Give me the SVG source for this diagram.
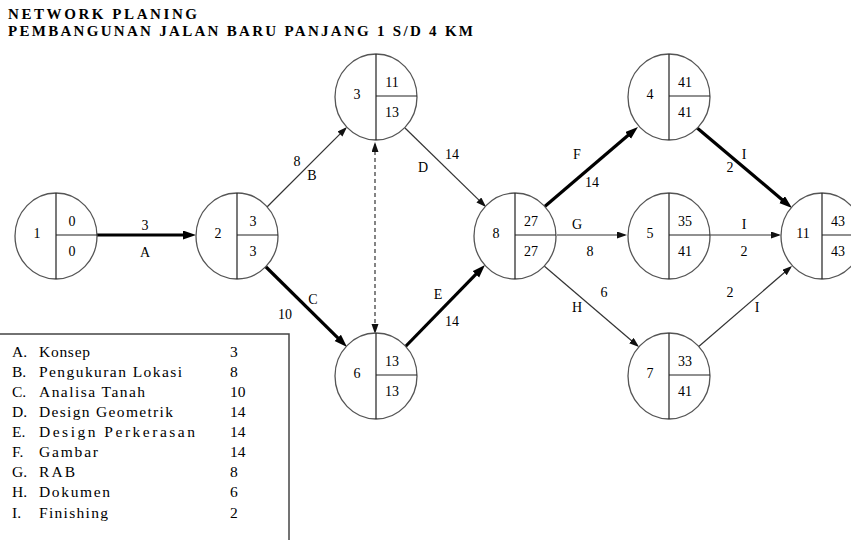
<svg xmlns="http://www.w3.org/2000/svg" width="851" height="540" viewBox="0 0 851 540" font-family="'Liberation Serif', 'Times New Roman', serif">
<defs>
<style>
text{font-family:"Liberation Serif","Times New Roman",serif;fill:#000}
.t{font-size:15px;font-weight:bold}
.n{font-size:14px;text-anchor:middle}
.lg{font-size:15.5px}
.c{fill:#fff;stroke:#555;stroke-width:1.3}
.dv{stroke:#222;stroke-width:1.2;fill:none}
.thin{stroke:#333;stroke-width:1.2;fill:none;marker-end:url(#ah)}
.thick{stroke:#000;stroke-width:3.2;fill:none;marker-end:url(#ahb)}
.dash{stroke:#333;stroke-width:1.2;fill:none;stroke-dasharray:4 3;marker-start:url(#ahd);marker-end:url(#ahd)}
</style>
<marker id="ah" markerUnits="userSpaceOnUse" markerWidth="10" markerHeight="8" refX="8" refY="3.5" orient="auto"><path d="M0,0 L10,3.5 L0,7 z" fill="#111"/></marker>
<marker id="ahd" markerUnits="userSpaceOnUse" markerWidth="10" markerHeight="8" refX="8" refY="3.5" orient="auto-start-reverse"><path d="M0,0 L10,3.5 L0,7 z" fill="#111"/></marker>
<marker id="ahb" markerUnits="userSpaceOnUse" markerWidth="13" markerHeight="10" refX="4" refY="4.5" orient="auto"><path d="M0,0 L13,4.5 L0,9 z" fill="#000"/></marker>
</defs>
<rect width="851" height="540" fill="#fff"/>
<g id="title">
<text class="t" x="8" y="19" textLength="189" lengthAdjust="spacing">NETWORK PLANING</text>
<text class="t" x="8" y="36" textLength="465" lengthAdjust="spacing">PEMBANGUNAN JALAN BARU PANJANG 1 S/D 4 KM</text>
</g>
<g id="connectors">
<line class="thick" x1="97" y1="235" x2="187" y2="235"/>
<line class="thin" x1="266" y1="208" x2="345.6" y2="128.4"/>
<line class="thick" x1="264" y1="265" x2="340.6" y2="340.7"/>
<line class="thin" x1="405" y1="128" x2="484.6" y2="205.6"/>
<line class="dash" x1="375" y1="144" x2="375" y2="332"/>
<line class="thick" x1="405" y1="347" x2="478.7" y2="271.4"/>
<line class="thick" x1="543" y1="208" x2="631.1" y2="132.8"/>
<line class="thick" x1="696" y1="127" x2="785.1" y2="202.2"/>
<line class="thin" x1="557" y1="235" x2="625" y2="235"/>
<line class="thin" x1="709" y1="235" x2="779" y2="235"/>
<line class="thin" x1="543" y1="265" x2="637.5" y2="345.7"/>
<line class="thin" x1="697" y1="348" x2="790.5" y2="267.3"/>
<g>
<text class="n" x="145" y="230">3</text><text class="n" x="145" y="257">A</text>
<text class="n" x="297" y="166">8</text><text class="n" x="312" y="180">B</text>
<text class="n" x="313" y="304">C</text><text class="n" x="285" y="319">10</text>
<text class="n" x="452" y="159">14</text><text class="n" x="423" y="172">D</text>
<text class="n" x="438" y="299">E</text><text class="n" x="452" y="326">14</text>
<text class="n" x="577" y="159">F</text><text class="n" x="592" y="187">14</text>
<text class="n" x="744" y="159">I</text><text class="n" x="730" y="172">2</text>
<text class="n" x="577" y="229">G</text><text class="n" x="590" y="256">8</text>
<text class="n" x="744" y="229">I</text><text class="n" x="744" y="256">2</text>
<text class="n" x="604" y="297">6</text><text class="n" x="577" y="312">H</text>
<text class="n" x="730" y="297">2</text><text class="n" x="757" y="312">I</text>
</g>
</g>
<g id="node1"><ellipse class="c" cx="56" cy="236" rx="41" ry="43"/><path class="dv" d="M56,193V279M56,235H97"/><text class="n" x="37" y="238">1</text><text class="n" x="72" y="226">0</text><text class="n" x="72" y="256">0</text></g>
<g id="node2"><ellipse class="c" cx="237" cy="236" rx="41" ry="43"/><path class="dv" d="M237,193V279M237,235H278"/><text class="n" x="218" y="238">2</text><text class="n" x="253" y="226">3</text><text class="n" x="253" y="256">3</text></g>
<g id="node3"><ellipse class="c" cx="376" cy="97" rx="41" ry="43"/><path class="dv" d="M376,54V140M376,96H417"/><text class="n" x="357" y="99">3</text><text class="n" x="392" y="87">11</text><text class="n" x="392" y="117">13</text></g>
<g id="node6"><ellipse class="c" cx="376" cy="376" rx="41" ry="43"/><path class="dv" d="M376,333V419M376,375H417"/><text class="n" x="357" y="378">6</text><text class="n" x="392" y="366">13</text><text class="n" x="392" y="396">13</text></g>
<g id="node8"><ellipse class="c" cx="515" cy="236" rx="41" ry="43"/><path class="dv" d="M515,193V279M515,235H556"/><text class="n" x="496" y="238">8</text><text class="n" x="531" y="226">27</text><text class="n" x="531" y="256">27</text></g>
<g id="node4"><ellipse class="c" cx="669" cy="97" rx="41" ry="43"/><path class="dv" d="M669,54V140M669,96H710"/><text class="n" x="650" y="99">4</text><text class="n" x="685" y="87">41</text><text class="n" x="685" y="117">41</text></g>
<g id="node5"><ellipse class="c" cx="669" cy="236" rx="41" ry="43"/><path class="dv" d="M669,193V279M669,235H710"/><text class="n" x="650" y="238">5</text><text class="n" x="685" y="226">35</text><text class="n" x="685" y="256">41</text></g>
<g id="node7"><ellipse class="c" cx="669" cy="376" rx="41" ry="43"/><path class="dv" d="M669,333V419M669,375H710"/><text class="n" x="650" y="378">7</text><text class="n" x="685" y="366">33</text><text class="n" x="685" y="396">41</text></g>
<g id="node11"><ellipse class="c" cx="822" cy="236" rx="41" ry="43"/><path class="dv" d="M822,193V279M822,235H863"/><text class="n" x="803" y="238">11</text><text class="n" x="838" y="226">43</text><text class="n" x="838" y="256">43</text></g>
<g id="legend">
<rect x="-2" y="334" width="291" height="212" fill="none" stroke="#444" stroke-width="1.5"/>
<text class="lg" x="12" y="357">A.</text><text class="lg" x="39" y="357" textLength="51" lengthAdjust="spacing">Konsep</text><text class="lg" x="230" y="357">3</text>
<text class="lg" x="12" y="377">B.</text><text class="lg" x="39" y="377" textLength="143" lengthAdjust="spacing">Pengukuran Lokasi</text><text class="lg" x="230" y="377">8</text>
<text class="lg" x="12" y="397">C.</text><text class="lg" x="39" y="397" textLength="106" lengthAdjust="spacing">Analisa Tanah</text><text class="lg" x="230" y="397">10</text>
<text class="lg" x="12" y="417">D.</text><text class="lg" x="39" y="417" textLength="134" lengthAdjust="spacing">Design Geometrik</text><text class="lg" x="230" y="417">14</text>
<text class="lg" x="12" y="437">E.</text><text class="lg" x="39" y="437" textLength="156" lengthAdjust="spacing">Design Perkerasan</text><text class="lg" x="230" y="437">14</text>
<text class="lg" x="12" y="457">F.</text><text class="lg" x="39" y="457" textLength="59" lengthAdjust="spacing">Gambar</text><text class="lg" x="230" y="457">14</text>
<text class="lg" x="12" y="477">G.</text><text class="lg" x="39" y="477" textLength="36" lengthAdjust="spacing">RAB</text><text class="lg" x="230" y="477">8</text>
<text class="lg" x="12" y="497">H.</text><text class="lg" x="39" y="497" textLength="71" lengthAdjust="spacing">Dokumen</text><text class="lg" x="230" y="497">6</text>
<text class="lg" x="12" y="518">I.</text><text class="lg" x="39" y="518" textLength="69" lengthAdjust="spacing">Finishing</text><text class="lg" x="230" y="518">2</text>
</g>
</svg>
